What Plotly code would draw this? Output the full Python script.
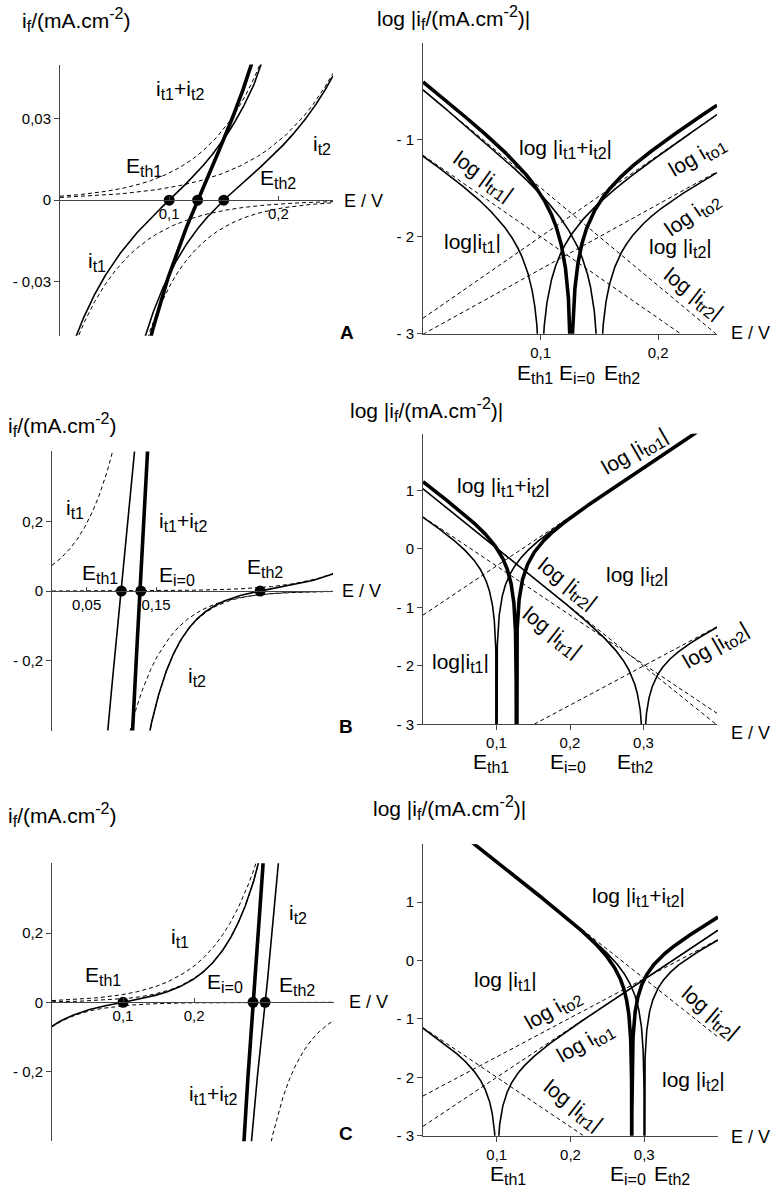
import numpy as np
import plotly.graph_objects as go

W, H = 773, 1200
FONT = "Liberation Sans, Arial, sans-serif"

# ---------------- data ----------------
panel_names = ["A", "B", "C"]
E_th1 = [0.10, 0.10, 0.10]          # V, threshold potential couple 1
log_i01 = [-2.00, -0.29, -2.00]     # log(i0,1 / mA cm-2)
E_th2 = [0.15, 0.30, 0.30]          # V, threshold potential couple 2
log_i02 = [-2.00, -2.00, -0.31]     # log(i0,2 / mA cm-2)
tafel_o1 = [8.4, 8.4, 8.4]          # decades / V (oxidation, couple 1)
tafel_r1 = [-8.4, -8.4, -8.5]       # decades / V (reduction, couple 1)
tafel_o2 = [6.7, 6.7, 6.7]          # decades / V (oxidation, couple 2)
tafel_r2 = [-10.1, -10.1, -10.0]    # decades / V (reduction, couple 2)
E_zero = [[0.100, 0.126, 0.150],    # dots: E_th1, E_i=0, E_th2
          [0.100, 0.128, 0.300],
          [0.100, 0.283, 0.300]]

lin_xmax = [0.25, 0.405, 0.397]
lin_ymax = [0.05, 0.403, 0.402]
log_xmax = [0.25, 0.40, 0.40]
log_yrange = [[-3, 0], [-3, 1.97], [-3, 1.99]]

lin_xtick_vals = [[0.1, 0.2], [0.05, 0.15], [0.1, 0.2]]
lin_xtick_text = [["0,1", "0,2"], ["0,05", "0,15"], ["0,1", "0,2"]]
lin_ytick_vals = [[-0.03, 0, 0.03], [-0.2, 0, 0.2], [-0.2, 0, 0.2]]
lin_ytick_text = [["- 0,03", "0", "0,03"], ["- 0,2", "0", "0,2"], ["- 0,2", "0", "0,2"]]
log_xtick_vals = [[0.1, 0.2], [0.1, 0.2, 0.3], [0.1, 0.2, 0.3]]
log_xtick_text = [["0,1", "0,2"], ["0,1", "0,2", "0,3"], ["0,1", "0,2", "0,3"]]
log_ytick_vals = [[-3, -2, -1], [-3, -2, -1, 0, 1], [-3, -2, -1, 0, 1]]
log_ytick_text = [["- 3", "- 2", "- 1"], ["- 3", "- 2", "- 1", "0", "1"],
                  ["- 3", "- 2", "- 1", "0", "1"]]

# ---------------- layout geometry (pixels) ----------------
geom_lin = [(60, 333, 65, 338), (52, 333, 454.5, 735.5), (52, 334, 869, 1149)]
geom_log = [(423, 717, 43, 336), (423, 717, 436.7, 729.3), (423, 718, 850, 1143.3)]

THIN, THICK, DASHW = 1.6, 3.6, 1.0
DASH = "4px,3px"
AXC = "#444444"
LBL, SUBSZ = 21, 16      # label font and subscript size (px)
TTL, TSUB = 21, 16       # axis-title font and sub/sup size


def px_x(p):
    return p / W


def px_y(p):
    return 1 - p / H


def sub(s, size=SUBSZ):
    return f"<sub><span style='font-size:{size}px'>{s}</span></sub>"


def sup(s, size=TSUB):
    return f"<sup><span style='font-size:{size}px'>{s}</span></sup>"


def partials(k, E):
    io1 = 10 ** (log_i01[k] + tafel_o1[k] * (E - E_th1[k]))
    ir1 = 10 ** (log_i01[k] + tafel_r1[k] * (E - E_th1[k]))
    io2 = 10 ** (log_i02[k] + tafel_o2[k] * (E - E_th2[k]))
    ir2 = 10 ** (log_i02[k] + tafel_r2[k] * (E - E_th2[k]))
    return io1, ir1, io2, ir2


def log_abs(E, i):
    y = np.log10(np.abs(i) + 1e-30)
    Es, ys = list(E), list(y)
    idx = np.where(np.sign(i[:-1]) != np.sign(i[1:]))[0]
    for k in reversed(idx):
        e0 = E[k] - i[k] * (E[k + 1] - E[k]) / (i[k + 1] - i[k])
        Es.insert(k + 1, e0)
        ys.insert(k + 1, -8.0)
    return np.array(Es), np.array(ys)


fig = go.Figure()
layout = {}
annotations = []


def line(xa, ya, x, y, width, dash=None):
    fig.add_trace(go.Scatter(x=x, y=y, mode="lines", xaxis=xa, yaxis=ya,
                             line=dict(color="black", width=width, dash=dash),
                             hoverinfo="skip", showlegend=False))


tickfont = dict(family=FONT, size=15, color="black")

for k in range(3):
    # ---------- linear panel ----------
    n_lin = 2 * k + 1
    n_log = 2 * k + 2
    xa, ya = f"x{n_lin}", f"y{n_lin}"
    E = np.linspace(0, lin_xmax[k], 4001)
    io1, ir1, io2, ir2 = partials(k, E)
    it1, it2 = io1 - ir1, io2 - ir2
    for c in (io1, -ir1, io2, -ir2):
        line(xa, ya, E, c, DASHW, DASH)
    line(xa, ya, E, it1, THIN)
    line(xa, ya, E, it2, THIN)
    line(xa, ya, E, it1 + it2, THICK)
    fig.add_trace(go.Scatter(x=E_zero[k], y=[0, 0, 0], mode="markers", xaxis=xa, yaxis=ya,
                             marker=dict(color="black", size=11), cliponaxis=False,
                             hoverinfo="skip", showlegend=False))
    x0, x1, yt, yb = geom_lin[k]
    ymid = (yt + yb) / 2
    layout[f"xaxis{n_lin}"] = dict(domain=[px_x(x0), px_x(x1)], range=[0, lin_xmax[k]],
                                   anchor="free", position=px_y(ymid),
                                   showline=True, linecolor=AXC, linewidth=1,
                                   ticks="inside", ticklen=4, tickcolor=AXC,
                                   tickvals=lin_xtick_vals[k], ticktext=lin_xtick_text[k],
                                   tickfont=tickfont, showgrid=False, zeroline=False)
    layout[f"yaxis{n_lin}"] = dict(domain=[px_y(yb), px_y(yt)], range=[-lin_ymax[k], lin_ymax[k]],
                                   anchor=xa, showline=True, linecolor=AXC, linewidth=1,
                                   ticks="outside", ticklen=5, tickcolor=AXC,
                                   tickvals=lin_ytick_vals[k], ticktext=lin_ytick_text[k],
                                   tickfont=tickfont, showgrid=False, zeroline=False)

    # ---------- log panel ----------
    xa, ya = f"x{n_log}", f"y{n_log}"
    E = np.linspace(0, log_xmax[k], 4001)
    io1, ir1, io2, ir2 = partials(k, E)
    it1, it2 = io1 - ir1, io2 - ir2
    for c in (io1, ir1, io2, ir2):
        line(xa, ya, E, np.log10(c), DASHW, DASH)
    for c, wdt in ((it1, THIN), (it2, THIN), (it1 + it2, THICK)):
        ex, ey = log_abs(E, c)
        line(xa, ya, ex, ey, wdt)
    x0, x1, yt, yb = geom_log[k]
    layout[f"xaxis{n_log}"] = dict(domain=[px_x(x0), px_x(x1)], range=[0, log_xmax[k]],
                                   anchor=ya, showline=True, linecolor=AXC, linewidth=1,
                                   ticks="outside", ticklen=5, tickcolor=AXC,
                                   tickvals=log_xtick_vals[k], ticktext=log_xtick_text[k],
                                   tickfont=tickfont, showgrid=False, zeroline=False)
    layout[f"yaxis{n_log}"] = dict(domain=[px_y(yb), px_y(yt)], range=log_yrange[k],
                                   anchor=xa, showline=True, linecolor=AXC, linewidth=1,
                                   ticks="outside", ticklen=5, tickcolor=AXC,
                                   tickvals=log_ytick_vals[k], ticktext=log_ytick_text[k],
                                   tickfont=tickfont, showgrid=False, zeroline=False)


def ann(text, px, py, angle=0, size=LBL, xanchor="center"):
    annotations.append(dict(text=text, x=px_x(px), y=px_y(py), xref="paper", yref="paper",
                            showarrow=False, xanchor=xanchor, yanchor="middle",
                            textangle=angle, font=dict(family=FONT, size=size, color="black")))


LIN_T = "i" + sub("f", TSUB) + "/(mA.cm" + sup("-2") + ")"
LOG_T = "log |i" + sub("f", TSUB) + "/(mA.cm" + sup("-2") + ")|"
SUM = "i" + sub("t1") + "+i" + sub("t2")
LSUM = "log |i" + sub("t1") + "+i" + sub("t2") + "|"
EV = "E / V"
EVS = 18


def ti(s):
    return "i" + sub(s)


def Es(s):
    return "E" + sub(s)


def lg(s, bars=True):
    return ("log |i" + sub(s) + "|") if bars else ("log i" + sub(s))


# ----- A -----
ann(LIN_T, 20, 20, size=TTL, xanchor="left")
ann(LOG_T, 375, 18, size=TTL, xanchor="left")
ann(SUM, 180, 91)
ann(Es("th1"), 144, 168)
ann(Es("th2"), 278, 180)
ann(ti("t2"), 322, 146)
ann(ti("t1"), 97, 264)
ann("<b>A</b>", 347, 335, size=19)
ann(EV, 342, 202, size=EVS, xanchor="left")
ann(LSUM, 565, 150)
ann(lg("tr1"), 483, 178, angle=36)
ann("log|i" + sub("t1") + "|", 472, 245)
ann(lg("to1", False), 697, 158, angle=-30)
ann(lg("to2", False), 692, 216, angle=-35)
ann(lg("t2"), 680, 250)
ann(lg("tr2"), 693, 296, angle=38)
ann(EV, 729, 335, size=EVS, xanchor="left")
ann(Es("th1"), 535, 377)
ann(Es("i=0"), 577, 377)
ann(Es("th2"), 622, 377)

# ----- B -----
ann(LIN_T, 6, 428, size=TTL, xanchor="left")
ann(LOG_T, 348, 413, size=TTL, xanchor="left")
ann(ti("t1"), 75, 512)
ann(SUM, 183, 526)
ann(Es("th1"), 100, 578)
ann(Es("i=0"), 177, 580)
ann(Es("th2"), 265, 572)
ann(ti("t2"), 197, 682)
ann("<b>B</b>", 346, 731, size=19)
ann(EV, 340, 595, size=EVS, xanchor="left")
ann(lg("to1"), 635, 455, angle=-30)
ann(LSUM, 503, 490)
ann(lg("tr2"), 567, 588, angle=38)
ann(lg("t2"), 637, 580)
ann(lg("tr1"), 552, 637, angle=38)
ann("log|i" + sub("t1") + "|", 460, 667)
ann(lg("to2"), 716, 650, angle=-30)
ann(EV, 729, 738, size=EVS, xanchor="left")
ann(Es("th1"), 491, 768)
ann(Es("i=0"), 568, 768)
ann(Es("th2"), 635, 768)

# ----- C -----
ann(LIN_T, 6, 820, size=TTL, xanchor="left")
ann(LOG_T, 371, 813, size=TTL, xanchor="left")
ann(ti("t2"), 298, 920)
ann(ti("t1"), 180, 944)
ann(Es("th1"), 103, 983)
ann(Es("i=0"), 225, 990)
ann(Es("th2"), 297, 993)
ann(SUM, 213, 1102)
ann("<b>C</b>", 346, 1141, size=19)
ann(EV, 347, 1009, size=EVS, xanchor="left")
ann(LSUM, 638, 903)
ann(lg("t1"), 505, 988)
ann(lg("to2", False), 553, 1017, angle=-30)
ann(lg("to1", False), 585, 1050, angle=-30)
ann(lg("tr2"), 710, 1020, angle=40)
ann(lg("t2"), 693, 1088)
ann(lg("tr1"), 573, 1113, angle=38)
ann(EV, 729, 1145, size=EVS, xanchor="left")
ann(Es("th1"), 508, 1183)
ann(Es("i=0"), 628, 1183)
ann(Es("th2"), 672, 1183)

fig.update_layout(width=W, height=H, margin=dict(l=0, r=0, t=0, b=0),
                  paper_bgcolor="white", plot_bgcolor="white",
                  showlegend=False, annotations=annotations,
                  font=dict(family=FONT, color="black"), **layout)

fig.write_html("out.html", config={"displayModeBar": False},
               post_script="document.body.style.margin='0px';document.body.style.overflow='hidden';")
